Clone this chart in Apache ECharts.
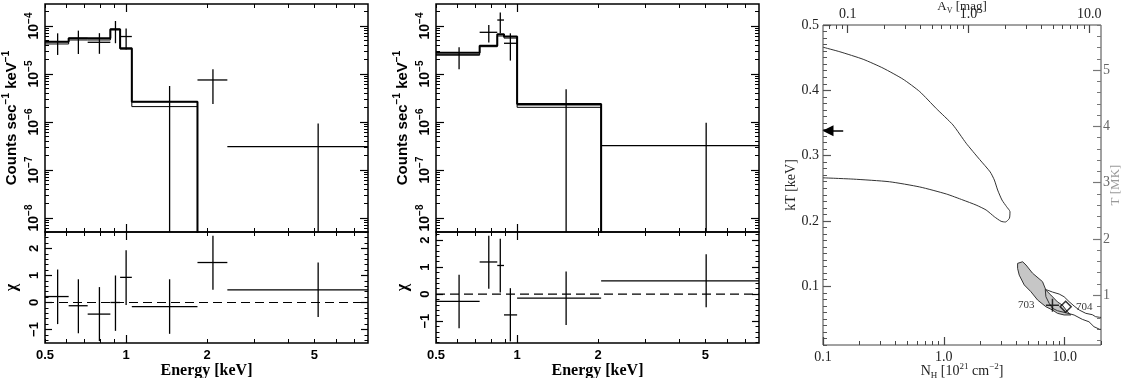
<!DOCTYPE html>
<html>
<head>
<meta charset="utf-8">
<title>Spectra and NH-kT confidence contours</title>
<script src="https://cdn.jsdelivr.net/npm/echarts@6.0.0/dist/echarts.min.js"></script>
<style>
  html, body { margin: 0; background: #fff; }
  #chart { width: 1125px; height: 378px; }
</style>
</head>
<body>
<div id="chart"></div>
<script>
// ---- left spectrum ----
const aBinLo = [0.5, 0.612, 0.72, 0.874, 0.95, 1.05, 1.84, 2.375];
const aBinHi = [0.612, 0.72, 0.874, 0.95, 1.05, 1.84, 2.375, 7.9];
const aEnergy = [0.557, 0.665, 0.796, 0.913, 1.0, 1.45, 2.1, 5.16];
const aRate = [4.72e-5, 5.53e-5, 4.57e-5, 8.51e-5, 6.03e-5, 2.65e-6, 7.5e-6, 3.06e-7];
const aRateLo = [2.49e-5, 2.61e-5, 2.63e-5, 4.37e-5, 3.24e-5, 1e-10, 2.37e-6, 1e-10];
const aRateHi = [7.03e-5, 8.0e-5, 7.08e-5, 1.27e-4, 8.91e-5, 5.62e-6, 1.25e-5, 9.33e-7];
const aModel1 = [4.72e-5, 5.53e-5, 5.53e-5, 8.53e-5, 3.43e-5, 2.65e-6, 1e-10, 1e-10];
const aModel2 = [4.22e-5, 5.11e-5, 5.11e-5, 8.3e-5, 3.3e-5, 2.09e-6, 1e-10, 1e-10];
const aChi = [0.22, -0.12, -0.43, 0.0, 0.93, -0.15, 1.48, 0.47];
const aChiLo = [-0.8, -1.14, -1.43, -1.05, -0.09, -1.16, 0.47, -0.54];
const aChiHi = [1.22, 0.86, 0.57, 1.0, 1.93, 0.86, 2.47, 1.48];

// ---- middle spectrum ----
const bBinLo = [0.5, 0.726, 0.844, 0.894, 1.0, 2.05];
const bBinHi = [0.726, 0.844, 0.894, 1.0, 2.05, 7.9];
const bEnergy = [0.609, 0.785, 0.866, 0.944, 1.52, 5.03];
const bRate = [2.49e-5, 7.38e-5, 1.33e-4, 4.36e-5, 2.26e-6, 3.21e-7];
const bRateLo = [1.25e-5, 4.5e-5, 7.03e-5, 1.9e-5, 1e-10, 1e-10];
const bRateHi = [3.6e-5, 1.05e-4, 1.91e-4, 7.03e-5, 4.8e-6, 9.68e-7];
const bModel1 = [2.78e-5, 3.89e-5, 6.7e-5, 6.0e-5, 2.37e-6, 1e-10];
const bModel2 = [2.49e-5, 3.7e-5, 6.19e-5, 5.6e-5, 2.02e-6, 1e-10];
const bChi = [-0.27, 1.19, 1.06, -0.77, -0.15, 0.49];
const bChiLo = [-1.26, 0.2, 0.06, -1.75, -1.14, -0.49];
const bChiHi = [0.72, 2.16, 2.05, 0.22, 0.84, 1.48];

// ---- contour panel ----
const outerNh = [0.1, 0.138, 0.215, 0.314, 0.46, 0.632, 0.867, 1.19, 1.53, 1.98, 2.42, 2.62, 2.79, 3.03, 3.31, 3.53, 3.49, 3.23, 2.98, 2.62, 2.24, 1.85, 1.44, 1.05, 0.632, 0.354, 0.178, 0.1];
const outerKt = [0.466, 0.459, 0.4475, 0.434, 0.417, 0.398, 0.372, 0.347, 0.319, 0.294, 0.275, 0.2626, 0.2473, 0.232, 0.2217, 0.2141, 0.204, 0.1983, 0.1994, 0.2064, 0.2167, 0.2243, 0.232, 0.2412, 0.252, 0.26, 0.264, 0.266];
const c703Nh = [4.08, 4.49, 4.79, 5.42, 6.56, 7.0, 7.69, 8.72, 9.59, 10.55, 11.25, 9.9, 8.72, 7.93, 7.0, 5.97, 5.26, 4.63, 4.21, 4.08];
const c703Kt = [0.135, 0.1375, 0.1325, 0.12, 0.107, 0.094, 0.0865, 0.076, 0.071, 0.061, 0.056, 0.056, 0.0585, 0.0636, 0.0686, 0.0789, 0.0916, 0.102, 0.117, 0.1274];
const c704Nh = [6.91, 7.93, 9.01, 9.9, 10.9, 11.98, 13.2, 14.96, 16.95, 18.07, 19.5, 22, 22, 19.5, 17.5, 15.9, 14.0, 11.98, 10.23, 8.72, 7.93, 7.45, 7.0];
const c704Kt = [0.0952, 0.0911, 0.088, 0.0839, 0.0763, 0.0697, 0.0636, 0.0585, 0.0564, 0.0533, 0.0524, 0.052, 0.034, 0.034, 0.038, 0.0456, 0.0493, 0.0559, 0.0594, 0.0625, 0.0662, 0.0738, 0.0839];
const best703 = [7.93, 0.071];
const best704 = [10.2, 0.0686];
const arrowNh = [0.147, 0.11];
const arrowKt = 0.338;

// ---- axes ----
const eMin = 0.5, eMax = 7.9;
const rateMin = 5.1e-9, rateMax = 2.87e-4;
const energyLabels = [0.5, 1, 2, 5];
const energyMajor = [1];
const energyMinor = [0.5, 0.6, 0.7, 0.8, 0.9, 2, 3, 4, 5, 6, 7];
const rateMajor = [1e-8, 1e-7, 1e-6, 1e-5, 1e-4];
const chiMajor = [-1, 0, 1, 2];
const nhLabels = [0.1, 1, 10];
const avLabels = [0.1, 1, 10];
const ktLabels = [0.1, 0.2, 0.3, 0.4, 0.5];
const tLabels = [1, 2, 3, 4, 5];
const ktMin = 0.01, ktMax = 0.5;
const nhMin = 0.1, nhMax = 20;
const nhPerAv = 1.6;      // 10^21 cm^-2 per mag
const kevToMK = 11.6045;

function logMinor(e0, e1) {
  const out = [];
  for (let e = e0; e <= e1; e++) for (let m = 2; m <= 9; m++) out.push(+(m * Math.pow(10, e)).toPrecision(3));
  return out;
}
function linMinor(a, b, step) {
  const out = [], n = Math.round((b - a) / step);
  for (let i = 0; i <= n; i++) out.push(+(a + i * step).toFixed(4));
  return out;
}

const SANS = 'Liberation Sans, Arial, sans-serif';
const SERIF = 'Liberation Serif, Times New Roman, serif';

const grids = [], xAxes = [], yAxes = [], series = [];

// name placed by its centre, nameGap = distance from axis line to the centre
const nameCentered = {nameLocation: 'middle', nameMoveOverlap: false};
const centerText = {align: 'center', verticalAlign: 'middle'};

function addAxis(list, base, major, minor, majLen, minLen, color, label) {
  const idx = list.length;
  let axisLabel = {show: false};
  if (label) {
    const {values, ...rest} = label;
    axisLabel = Object.assign({show: true, customValues: values}, rest);
  }
  list.push(Object.assign({}, base, {
    axisLine: {show: false, onZero: false},
    splitLine: {show: false},
    axisTick: {show: true, inside: true, length: majLen, customValues: major, lineStyle: {color: color, width: 1.2}},
    axisLabel: axisLabel
  }));
  if (minor) {
    list.push(Object.assign({}, base, {
      name: '',
      axisLine: {show: false, onZero: false},
      splitLine: {show: false},
      axisTick: {show: true, inside: true, length: minLen, customValues: minor, lineStyle: {color: color, width: 1}},
      axisLabel: {show: false}
    }));
  }
  return idx;
}

function stepPath(lo, hi, v) {
  const pts = [];
  for (let i = 0; i < v.length; i++) pts.push([lo[i], v[i]], [hi[i], v[i]]);
  return pts;
}

function crosses(xi, yi, x, y, xl, xh, yl, yh, color, width) {
  return {
    type: 'custom', xAxisIndex: xi, yAxisIndex: yi, clip: true,
    data: x.map((v, i) => [v, y[i], xl[i], xh[i], yl[i], yh[i]]),
    renderItem(params, api) {
      const l = api.coord([api.value(2), api.value(1)]);
      const r = api.coord([api.value(3), api.value(1)]);
      const b = api.coord([api.value(0), api.value(4)]);
      const t = api.coord([api.value(0), api.value(5)]);
      const st = {stroke: color, lineWidth: width};
      return {type: 'group', children: [
        {type: 'line', shape: {x1: l[0], y1: l[1], x2: r[0], y2: r[1]}, style: st},
        {type: 'line', shape: {x1: b[0], y1: b[1], x2: t[0], y2: t[1]}, style: st}
      ]};
    }
  };
}

const supRich = (size) => ({
  b: {fontSize: size, fontWeight: 'bold', fontFamily: SANS, lineHeight: size + 3, verticalAlign: 'bottom', color: '#000'},
  s: {fontSize: Math.round(size * 0.68), fontWeight: 'bold', fontFamily: SANS, lineHeight: 10, verticalAlign: 'top', color: '#000'}
});

const rateMinor = logMinor(-9, -4);
const chiMinor = linMinor(-2, 3, 0.2);

function spectrum(left, s) {
  const gt = grids.length;
  grids.push({left: left, top: 4, width: 323, height: 228, show: true, borderColor: '#000', borderWidth: 1.5, outerBoundsMode: 'none'});
  const gb = grids.length;
  grids.push({left: left, top: 232, width: 323, height: 111, show: true, borderColor: '#000', borderWidth: 1.5, outerBoundsMode: 'none'});

  const eAxis = (g, pos, extra) => Object.assign({type: 'log', gridIndex: g, position: pos, min: eMin, max: eMax}, extra || {});

  // upper panel
  const xt = addAxis(xAxes, eAxis(gt, 'bottom'), energyMajor, energyMinor, 8, 4, '#000');
  addAxis(xAxes, eAxis(gt, 'top'), energyMajor, energyMinor, 8, 4, '#000');
  const yt = addAxis(yAxes, Object.assign({
    type: 'log', gridIndex: gt, position: 'left', min: rateMin, max: rateMax,
    name: '{b|Counts sec}{s|−1}{b| keV}{s|−1}', nameRotate: 90, nameGap: 35,
    nameTextStyle: Object.assign({rich: supRich(15)}, centerText)
  }, nameCentered), rateMajor, rateMinor, 8, 4, '#000', {
    values: rateMajor, rotate: 90, margin: 4,
    formatter: v => '{b|10}{s|−' + Math.round(-Math.log10(v)) + '}',
    rich: supRich(14)
  });
  addAxis(yAxes, {type: 'log', gridIndex: gt, position: 'right', min: rateMin, max: rateMax}, rateMajor, rateMinor, 8, 4, '#000');

  // lower panel
  const xb = addAxis(xAxes, eAxis(gb, 'bottom', Object.assign({
    name: 'Energy [keV]', nameGap: 28,
    nameTextStyle: Object.assign({fontFamily: SERIF, fontWeight: 'bold', fontSize: 16, color: '#000'}, centerText)
  }, nameCentered)), energyMajor, energyMinor, 8, 4, '#000', {
    values: energyLabels, margin: 6, fontFamily: SANS, fontWeight: 'bold', fontSize: 13, color: '#000',
    formatter: v => String(v)
  });
  addAxis(xAxes, eAxis(gb, 'top'), energyMajor, energyMinor, 8, 4, '#000');
  const yb = addAxis(yAxes, Object.assign({
    type: 'value', gridIndex: gb, position: 'left', min: s.chiMin, max: s.chiMax,
    name: 'χ', nameRotate: 90, nameGap: 33,
    nameTextStyle: Object.assign({fontFamily: SERIF, fontWeight: 'bold', fontSize: 16, color: '#000'}, centerText)
  }, nameCentered), chiMajor, chiMinor, 7, 3.5, '#000', {
    values: chiMajor, rotate: 90, margin: 4, fontFamily: SANS, fontWeight: 'bold', fontSize: 13, color: '#000',
    formatter: v => (v < 0 ? '−' + Math.abs(v) : String(v))
  });
  addAxis(yAxes, {type: 'value', gridIndex: gb, position: 'right', min: s.chiMin, max: s.chiMax}, chiMajor, chiMinor, 7, 3.5, '#000');

  series.push(
    {type: 'line', xAxisIndex: xt, yAxisIndex: yt, data: stepPath(s.lo, s.hi, s.model1), showSymbol: false, symbol: 'none',
     lineStyle: {color: '#000', width: 2}, clip: true},
    {type: 'line', xAxisIndex: xt, yAxisIndex: yt, data: stepPath(s.lo, s.hi, s.model2), showSymbol: false, symbol: 'none',
     lineStyle: {color: '#000', width: 1}, clip: true},
    crosses(xt, yt, s.energy, s.rate, s.lo, s.hi, s.rateLo, s.rateHi, '#000', 1.3),
    {type: 'line', xAxisIndex: xb, yAxisIndex: yb, data: [[eMin, 0], [eMax, 0]], showSymbol: false, symbol: 'none',
     lineStyle: {color: '#000', width: 1.2, type: [9, 5]}},
    crosses(xb, yb, s.energy, s.chi, s.lo, s.hi, s.chiLo, s.chiHi, '#000', 1.3)
  );
}

spectrum(45, {lo: aBinLo, hi: aBinHi, energy: aEnergy, rate: aRate, rateLo: aRateLo, rateHi: aRateHi,
  model1: aModel1, model2: aModel2, chi: aChi, chiLo: aChiLo, chiHi: aChiHi, chiMin: -1.5, chiMax: 2.61});
spectrum(436, {lo: bBinLo, hi: bBinHi, energy: bEnergy, rate: bRate, rateLo: bRateLo, rateHi: bRateHi,
  model1: bModel1, model2: bModel2, chi: bChi, chiLo: bChiLo, chiHi: bChiHi, chiMin: -1.81, chiMax: 2.30});

// ---- contour panel ----
const gr = grids.length;
grids.push({left: 823, top: 25, width: 278, height: 320, show: true, borderColor: '#444', borderWidth: 1, outerBoundsMode: 'none'});
const serifLabel = (extra) => Object.assign({fontFamily: SERIF, fontSize: 14, color: '#222'}, extra);
const subRich = {
  n: {fontFamily: SERIF, fontSize: 14, color: '#222', lineHeight: 18, verticalAlign: 'middle'},
  sub: {fontFamily: SERIF, fontSize: 9, color: '#222', lineHeight: 10, verticalAlign: 'bottom'},
  sup: {fontFamily: SERIF, fontSize: 9, color: '#222', lineHeight: 10, verticalAlign: 'top'}
};

const xr = addAxis(xAxes, Object.assign({
  type: 'log', gridIndex: gr, position: 'bottom', min: nhMin, max: nhMax,
  name: '{n|N}{sub|H}{n| [10}{sup|21}{n| cm}{sup|−2}{n|]}', nameGap: 26,
  nameTextStyle: Object.assign({rich: subRich}, centerText)
}, nameCentered), nhLabels, logMinor(-1, 1), 8, 4, '#444', serifLabel({values: nhLabels, margin: 5, formatter: v => v.toFixed(1)}));
addAxis(xAxes, Object.assign({
  type: 'log', gridIndex: gr, position: 'top', min: nhMin / nhPerAv, max: nhMax / nhPerAv,
  name: '{n|A}{sub|V}{n| [mag]}', nameGap: 18,
  nameTextStyle: Object.assign({rich: {
    n: {fontFamily: SERIF, fontSize: 13, color: '#222', lineHeight: 16, verticalAlign: 'middle'},
    sub: {fontFamily: SERIF, fontSize: 8, color: '#222', lineHeight: 9, verticalAlign: 'bottom'}
  }}, centerText)
}, nameCentered), avLabels, logMinor(-2, 1), 8, 4, '#444', serifLabel({values: avLabels, margin: 4, formatter: v => v.toFixed(1)}));
const yr = addAxis(yAxes, Object.assign({
  type: 'value', gridIndex: gr, position: 'left', min: ktMin, max: ktMax,
  name: 'kT [keV]', nameRotate: 90, nameGap: 32,
  nameTextStyle: Object.assign({fontFamily: SERIF, fontSize: 14, color: '#222'}, centerText)
}, nameCentered), ktLabels, linMinor(0.01, 0.5, 0.01), 8, 4, '#555', serifLabel({values: ktLabels, margin: 4, formatter: v => v.toFixed(1)}));
addAxis(yAxes, Object.assign({
  type: 'value', gridIndex: gr, position: 'right', min: ktMin * kevToMK, max: ktMax * kevToMK,
  name: 'T [MK]', nameRotate: 90, nameGap: 15,
  nameTextStyle: Object.assign({fontFamily: SERIF, fontSize: 13, color: '#999'}, centerText)
}, nameCentered), tLabels, linMinor(0, 6, 0.2), 8, 4, '#777', serifLabel({values: tLabels, margin: 2, color: '#666', formatter: v => String(v)}));

function polygonSeries(nh, kt, fill, stroke) {
  return {
    type: 'custom', xAxisIndex: xr, yAxisIndex: yr, clip: true, data: [0],
    renderItem(params, api) {
      return {type: 'polygon', shape: {points: nh.map((v, i) => api.coord([v, kt[i]]))},
              style: {fill: fill, stroke: stroke, lineWidth: 1}};
    }
  };
}

series.push(
  {type: 'line', xAxisIndex: xr, yAxisIndex: yr, data: outerNh.map((v, i) => [v, outerKt[i]]),
   showSymbol: false, symbol: 'none', smooth: 0.2, lineStyle: {color: '#333', width: 1}, clip: true},
  polygonSeries(c703Nh, c703Kt, '#c6c6c6', '#333'),
  polygonSeries(c704Nh, c704Kt, 'none', '#333'),
  {type: 'scatter', xAxisIndex: xr, yAxisIndex: yr, data: [best703], symbol: 'path://M5,0V10M0,5H10', symbolSize: 13,
   itemStyle: {color: 'none', borderColor: '#000', borderWidth: 1.5},
   label: {show: true, position: 'left', distance: 9, formatter: '703', fontFamily: SERIF, fontSize: 11, color: '#000'}},
  {type: 'scatter', xAxisIndex: xr, yAxisIndex: yr, data: [best704], symbol: 'diamond', symbolSize: 11,
   itemStyle: {color: 'rgba(255,255,255,0)', borderColor: '#000', borderWidth: 1.5},
   label: {show: true, position: 'right', distance: 4, formatter: '704', fontFamily: SERIF, fontSize: 11, color: '#000'}},
  {type: 'lines', coordinateSystem: 'cartesian2d', xAxisIndex: xr, yAxisIndex: yr,
   symbol: ['none', 'triangle'], symbolSize: 11, lineStyle: {color: '#000', width: 1.5, opacity: 1},
   data: [{coords: [[arrowNh[0], arrowKt], [arrowNh[1], arrowKt]]}]}
);

const chart = echarts.init(document.getElementById('chart'), null, {renderer: 'canvas'});
chart.setOption({
  animation: false,
  backgroundColor: '#fff',
  grid: grids,
  xAxis: xAxes,
  yAxis: yAxes,
  series: series
});
</script>
</body>
</html>
